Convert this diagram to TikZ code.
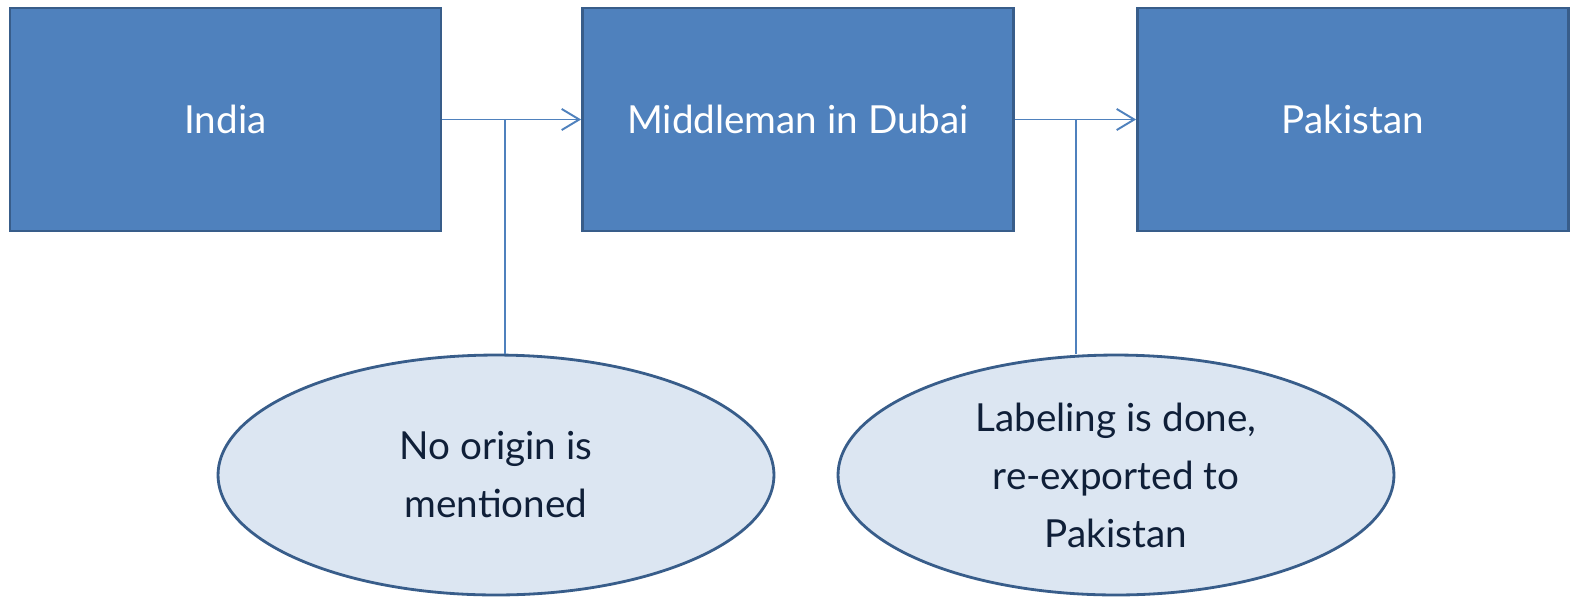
\documentclass[tikz,border=0pt]{standalone}
\usepackage{fontspec}
\setmainfont{Lato}
\usetikzlibrary{shapes.geometric,arrows.meta}
\definecolor{boxblue}{HTML}{4F81BD}
\definecolor{boxedge}{HTML}{385D8A}
\definecolor{ovalfill}{HTML}{DCE6F2}
\definecolor{ovaltext}{HTML}{0F1F38}
\tikzset{
	place/.style={draw=boxedge, fill=boxblue, line width=1.6pt, minimum width=8.62cm, minimum height=4.46cm, text=white, font=\fontsize{22}{33}\selectfont},
	note/.style={ellipse, draw=boxedge, fill=ovalfill, line width=1.6pt, minimum width=11.12cm, minimum height=4.8cm, inner sep=0pt, text=ovaltext, align=center, font=\fontsize{22}{33}\selectfont},
	link/.style={draw=boxblue, line width=1.1pt},
	flow/.style={link, -{Straight Barb[length=10pt,width=12pt]}}
}
\begin{document}%
\begin{tikzpicture}[x=0.02cm,y=-0.02cm]
		%%%%% BOXES %%%%%
		\useasboundingbox (0,0) rectangle (1580,600);
		\node[place] (india) at (225.5,119.5) {India};
		\node[place] (dubai) at (798,119.5) {Middleman in Dubai};
		\node[place] (pak) at (1353,119.5) {Pakistan};
		
		%%%%% NOTES %%%%%
		\node[note] (origin) at (496,475) {No origin is\\mentioned};
		\node[note] (label) at (1116,475) {Labeling is done,\\re-exported to\\Pakistan};
		
		%%%%% LINKS %%%%%
		\coordinate (j1) at (505,119.5);
		\coordinate (j2) at (1076,119.5);
		\draw[flow] (india.east) -- (dubai.west);
		\draw[flow] (dubai.east) -- (pak.west);
		\draw[link] (j1) -- (j1 |- origin.north);
		\draw[link] (j2) -- (j2 |- label.north);
		%%%%% END %%%%%
	\end{tikzpicture}%
\end{document}
